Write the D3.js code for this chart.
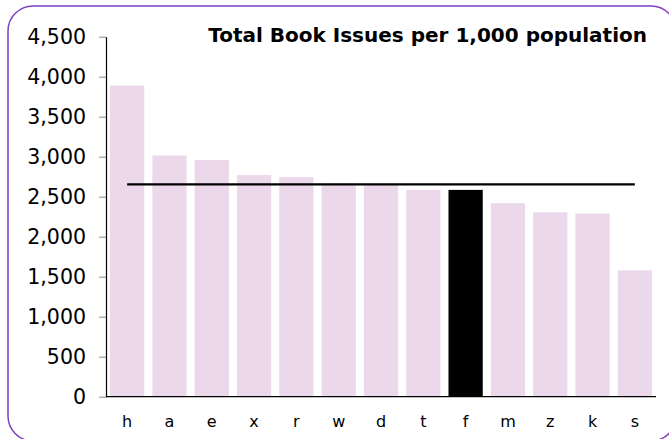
<!DOCTYPE html>
<html><head><meta charset="utf-8">
<script src="https://cdn.jsdelivr.net/npm/d3@7"></script>
<style>body{margin:0;background:#fff}svg{display:block;font-family:Verdana,"DejaVu Sans",sans-serif}</style>
</head><body><svg id="c" width="669" height="439"></svg>
<script>
const categories = ["h","a","e","x","r","w","d","t","f","m","z","k","s"];
const values = [3890,3015,2960,2770,2745,2660,2650,2585,2585,2420,2305,2290,1580];
const highlight = "f";
const average = 2655;
const yTicks = [0,500,1000,1500,2000,2500,3000,3500,4000,4500];
const title = "Total Book Issues per 1,000 population";

(function(){
const svg = d3.select("#c");
svg.append("rect").attr("x",8).attr("y",6).attr("width",668).attr("height",435)
  .attr("rx",25).attr("ry",25).attr("fill","none").attr("stroke","#7f3fbf").attr("stroke-width",1.5);

const pL=106, pR=656, pT=36.7, pB=396.7;
const x = d3.scaleBand().domain(categories).range([pL,pR]).paddingInner(0.19).paddingOuter(0.095);
const y = d3.scaleLinear().domain([0,4500]).range([pB,pT]);

svg.append("g").selectAll("rect").data(categories).join("rect")
  .attr("x",d=>x(d)).attr("width",x.bandwidth())
  .attr("y",(d,i)=>y(values[i])).attr("height",(d,i)=>y(0)-y(values[i]))
  .attr("fill",d=>d===highlight?"#000":"#ebd9eb");

const ya = svg.append("g").attr("transform",`translate(${pL},0)`)
  .call(d3.axisLeft(y).tickValues(yTicks).tickFormat(d3.format(",")).tickSize(7).tickSizeOuter(0).tickPadding(13));
ya.select(".domain").attr("stroke","#000").attr("stroke-width",1.2);
ya.selectAll(".tick line").attr("stroke","#888");
ya.selectAll("text").attr("font-size",20.5).attr("fill","#000").attr("font-family",'Verdana,"DejaVu Sans",sans-serif');

const xa = svg.append("g").attr("transform",`translate(0,${pB})`)
  .call(d3.axisBottom(x).tickSize(0).tickPadding(19));
xa.select(".domain").attr("d",`M${pL},0H${pR}`).attr("stroke","#000").attr("stroke-width",1.2);
xa.selectAll("text").attr("font-size",16).attr("fill","#000").attr("font-family",'Verdana,"DejaVu Sans",sans-serif');

svg.append("line")
  .attr("x1",x(categories[0])+x.bandwidth()/2).attr("x2",x(categories[categories.length-1])+x.bandwidth()/2)
  .attr("y1",y(average)).attr("y2",y(average)).attr("stroke","#000").attr("stroke-width",2.2);

svg.append("text").attr("x",647).attr("y",42).attr("text-anchor","end")
  .attr("font-size",20).attr("font-weight","bold").attr("fill","#000").text(title);
})();
</script></body></html>
